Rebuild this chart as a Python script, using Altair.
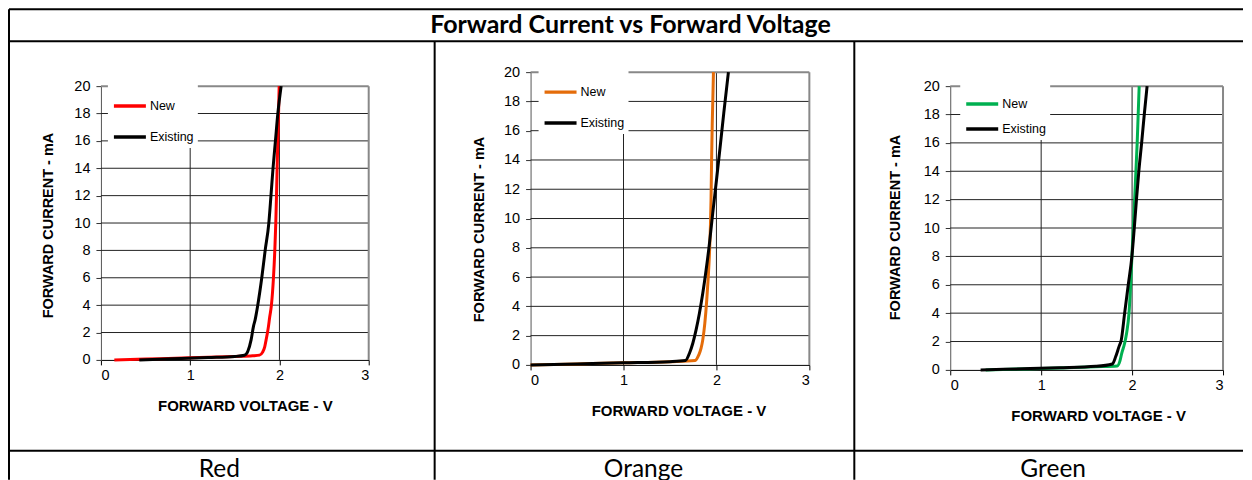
import altair as alt
import pandas as pd

TITLE = "Forward Current vs Forward Voltage"
PANEL_NAMES = ["Red", "Orange", "Green"]
SERIES = ["New", "Existing"]
NEW_COLORS = ["#ff0000", "#e46c0a", "#00b050"]
OLD_COLOR = "#000000"
X_TITLE = "FORWARD VOLTAGE - V"
Y_TITLE = "FORWARD CURRENT - mA"
X_TICKS = [0, 1, 2, 3]
Y_TICKS = [0, 2, 4, 6, 8, 10, 12, 14, 16, 18, 20]
X_GRID = [1, 2]
Y_GRID = [2, 4, 6, 8, 10, 12, 14, 16, 18]
X_MIN, X_MAX = 0, 3
Y_MIN, Y_MAX = 0, 20

# ---- Red LED ----
red_new_v = [0.15, 0.5, 1.0, 1.5, 1.70, 1.777, 1.81, 1.835, 1.851, 1.866, 1.877, 1.89, 1.91, 1.933, 1.948, 1.959, 1.967, 1.974, 1.982, 1.990, 1.997]
red_new_i = [0.0, 0.06, 0.15, 0.25, 0.30, 0.35, 0.55, 0.95, 1.48, 2.0, 2.45, 3.1, 4.0, 6.0, 8.0, 10.0, 12.0, 14.0, 16.0, 18.0, 20.0]
red_old_v = [0.43, 0.8, 1.2, 1.5, 1.609, 1.646, 1.683, 1.709, 1.728, 1.757, 1.802, 1.840, 1.881, 1.905, 1.928, 1.955, 1.982, 2.019]
red_old_i = [0.0, 0.08, 0.17, 0.25, 0.34, 0.63, 1.48, 2.45, 2.94, 4.0, 6.0, 8.0, 10.0, 12.0, 14.0, 16.0, 18.0, 20.0]

# ---- Orange LED ----
orange_new_v = [0.0, 0.5, 1.0, 1.5, 1.771, 1.81, 1.835, 1.853, 1.875, 1.896, 1.91, 1.925, 1.935, 1.942, 1.948, 1.955, 1.962, 1.968]
orange_new_i = [0.0, 0.07, 0.14, 0.22, 0.30, 0.68, 1.14, 1.71, 2.84, 4.44, 5.8, 7.6, 9.4, 11.3, 14.0, 16.5, 18.3, 20.0]
orange_old_v = [0.0, 0.5, 1.0, 1.5, 1.667, 1.71, 1.746, 1.781, 1.817, 1.853, 1.889, 1.925, 1.96, 2.0, 2.04, 2.079, 2.129]
orange_old_i = [0.0, 0.07, 0.14, 0.22, 0.30, 0.8, 1.48, 2.39, 3.53, 4.89, 6.48, 8.3, 10.35, 12.6, 14.9, 17.2, 20.0]

# ---- Green LED ----
green_new_v = [0.39, 0.8, 1.2, 1.6, 1.837, 1.865, 1.886, 1.918, 1.94, 1.966, 1.984, 1.998, 2.013, 2.028, 2.042, 2.056, 2.067, 2.078]
green_new_i = [0.0, 0.07, 0.14, 0.22, 0.28, 0.6, 1.17, 1.88, 2.6, 4.0, 6.0, 8.0, 10.0, 12.0, 14.0, 16.0, 18.0, 20.0]
green_old_v = [0.334, 0.8, 1.2, 1.6, 1.782, 1.82, 1.856, 1.881, 1.918, 1.958, 1.998, 2.024, 2.048, 2.074, 2.105, 2.134, 2.165]
green_old_i = [0.0, 0.08, 0.15, 0.25, 0.42, 0.94, 1.64, 2.11, 4.0, 6.0, 8.0, 10.0, 12.0, 14.0, 16.0, 18.0, 20.0]

AXIS_FONT = "Liberation Sans"
TEXT_FONT = "Lato"
GRID = "#222222"
FRAME = "#888888"

one_row = pd.DataFrame({"k": [0]})


def rule(x, x2, y, y2, w=2):
    return alt.Chart(one_row).mark_rule(color="black", strokeWidth=w).encode(
        x=alt.value(x), x2=alt.value(x2), y=alt.value(y), y2=alt.value(y2))


def label(text, x, y, size, weight):
    return alt.Chart(pd.DataFrame({"t": [text]})).mark_text(
        font=TEXT_FONT, fontSize=size, fontWeight=weight, color="black",
        align="center", baseline="alphabetic").encode(
        text="t:N", x=alt.value(x), y=alt.value(y))


def panel(idx, new_v, new_i, old_v, old_i, gw, w, h, top, geo, extras):
    df_new = pd.DataFrame({"V": new_v, "I": new_i, "series": "New"})
    df_old = pd.DataFrame({"V": old_v, "I": old_i, "series": "Existing"})
    color = alt.Color(
        "series:N",
        scale=alt.Scale(domain=SERIES, range=[NEW_COLORS[idx], OLD_COLOR]),
        legend=alt.Legend(
            title=None, orient="none", legendX=geo["lx"], legendY=geo["ly"],
            symbolType="stroke", symbolSize=1024, symbolStrokeWidth=3.5,
            labelFont=AXIS_FONT, labelFontSize=12.5, labelColor="black",
            labelOffset=2, fillColor="white", padding=4,
            rowPadding=geo["rp"]))
    xs = alt.Scale(domain=[X_MIN, X_MAX], nice=False, zero=False, range=[0, w])
    ys = alt.Scale(domain=[Y_MIN, Y_MAX], nice=False, range=[h, top])
    xaxis = alt.Axis(values=X_TICKS, title=X_TITLE, format="d", grid=False,
                     titleFont=AXIS_FONT, titleFontSize=15, titleFontWeight="bold",
                     titleColor="black", titleX=geo["tx"], titleY=46,
                     titleAlign="center", titleBaseline="middle",
                     labelFont=AXIS_FONT, labelFontSize=14.5, labelColor="black",
                     labelPadding=4, tickSize=5, tickColor="black",
                     domainColor="black", labelOverlap=False)
    yaxis = alt.Axis(values=Y_TICKS, title=Y_TITLE, format="d", grid=False,
                     titleFont=AXIS_FONT, titleFontSize=14.5, titleFontWeight="bold",
                     titleColor="black", titleAngle=270, titleX=geo["yx"],
                     titleY=geo["yy"], titleAlign="center", titleBaseline="middle",
                     labelFont=AXIS_FONT, labelFontSize=14.5, labelColor="black",
                     labelPadding=6, tickSize=5, tickColor="#333333",
                     domainColor="#555555", labelOverlap=False)
    x = alt.X("V:Q", scale=xs, axis=xaxis)
    y = alt.Y("I:Q", scale=ys, axis=yaxis)
    x_lo = alt.XDatum(X_MIN, scale=xs, axis=xaxis)
    y_lo = alt.YDatum(Y_MIN, scale=ys, axis=yaxis)
    vgrid = alt.Chart(pd.DataFrame({"V": X_GRID})).mark_rule(
        color=GRID, strokeWidth=1).encode(x=x, y=y_lo, y2=alt.datum(Y_MAX))
    hgrid = alt.Chart(pd.DataFrame({"I": Y_GRID})).mark_rule(
        color=GRID, strokeWidth=1).encode(y=y, x=x_lo, x2=alt.datum(X_MAX))
    right = alt.Chart(pd.DataFrame({"V": [X_MAX]})).mark_rule(
        color=FRAME, strokeWidth=2).encode(x=x, y=y_lo, y2=alt.datum(Y_MAX))
    topb = alt.Chart(pd.DataFrame({"I": [Y_MAX]})).mark_rule(
        color=FRAME, strokeWidth=2).encode(y=y, x=x_lo, x2=alt.datum(X_MAX))
    l_new = alt.Chart(df_new).mark_line(strokeWidth=3, interpolate="monotone").encode(
        x=x, y=y, color=color)
    l_old = alt.Chart(df_old).mark_line(strokeWidth=3, interpolate="monotone").encode(
        x=x, y=y, color=color)
    return alt.layer(vgrid, hgrid, right, topb, l_new, l_old, *extras).properties(
        width=gw, height=h)


# all panel groups start at page y ~72; panel x origins ~101, 531, 951
p1 = panel(0, red_new_v, red_new_i, red_old_v, red_old_i, 289, 268, 288, 14,
           dict(lx=7, ly=12, rp=6, tx=144, yx=-52, yy=153),
           [label(PANEL_NAMES[0], 118.5, 405, 24.5, "normal")])

p2_extras = [
    rule(-522, 713, -63, -63),
    rule(-522, 713, -31, -31),
    rule(-522, 713, 379, 379),
    rule(-522, -522, -63, 408),
    rule(-96, -96, -31, 408),
    rule(324, 324, -31, 408),
    label(TITLE, 100, -39, 25, "bold"),
    label(PANEL_NAMES[1], 113, 405, 24.5, "normal"),
]
p2 = panel(1, orange_new_v, orange_new_i, orange_old_v, orange_old_i, 279, 279, 293, 0,
           dict(lx=8, ly=-2, rp=6, tx=148, yx=-51, yy=157), p2_extras)

p3 = panel(2, green_new_v, green_new_i, green_old_v, green_old_i, 273, 273, 298, 14,
           dict(lx=10, ly=10, rp=0, tx=148, yx=-55, yy=155),
           [label(PANEL_NAMES[2], 103, 405, 24.5, "normal")])

chart = alt.hconcat(
    p1, p2, p3, spacing=141, bounds="flush"
).resolve_scale(
    color="independent", x="independent", y="independent"
).properties(
    padding=0, background="white"
).configure_axis(
    grid=False
).configure_view(
    stroke="transparent", strokeWidth=0, strokeOpacity=0
)

chart.save("out.html", embed_options={"renderer": "svg", "actions": False})
